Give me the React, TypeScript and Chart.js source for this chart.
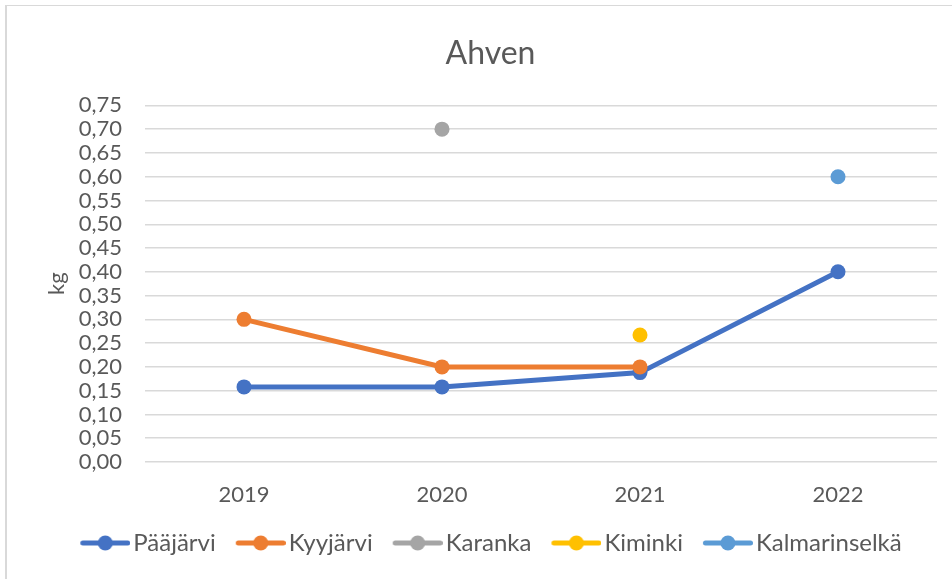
import React, { useEffect, useRef } from "react";
import { Chart, registerables } from "chart.js";

Chart.register(...registerables);

const years = ["2019", "2020", "2021", "2022"];
const paajarvi = [0.158, 0.158, 0.188, 0.4];
const kyyjarvi = [0.3, 0.2, 0.2, null];
const karanka = [null, 0.7, null, null];
const kiminki = [null, null, 0.267, null];
const kalmarinselka = [null, null, null, 0.6];
const seriesNames = ["Pääjärvi", "Kyyjärvi", "Karanka", "Kiminki", "Kalmarinselkä"];
const seriesColors = ["#4472C4", "#ED7D31", "#A5A5A5", "#FFC000", "#5B9BD5"];
const seriesData = [paajarvi, kyyjarvi, karanka, kiminki, kalmarinselka];
const yMin = 0;
const yMax = 0.75;
const yStep = 0.05;

const FONT = "Lato, 'Open Sans', sans-serif";
const TEXT = "#595959";

function legendMarker(color: string) {
  const c = document.createElement("canvas");
  c.width = 60;
  c.height = 16;
  const ctx = c.getContext("2d")!;
  ctx.strokeStyle = color;
  ctx.lineWidth = 5;
  ctx.lineCap = "round";
  ctx.beginPath();
  ctx.moveTo(12.5, 8);
  ctx.lineTo(57.5, 8);
  ctx.stroke();
  ctx.fillStyle = color;
  ctx.beginPath();
  ctx.arc(35, 8, 7.5, 0, Math.PI * 2);
  ctx.fill();
  return c;
}

export default function App() {
  const ref = useRef<HTMLCanvasElement>(null);
  useEffect(() => {
    document.body.style.margin = "0";
    document.body.style.overflow = "hidden";
    const markers = seriesColors.map(legendMarker);
    const chart = new Chart(ref.current!, {
      type: "line",
      data: {
        labels: years,
        datasets: seriesNames.map((name, i) => ({
          label: name,
          data: seriesData[i],
          borderColor: seriesColors[i],
          backgroundColor: seriesColors[i],
          borderWidth: 5,
          pointRadius: 7.5,
          pointHoverRadius: 7.5,
          pointBorderWidth: 0,
          spanGaps: false,
          order: seriesNames.length - i,
        })),
      },
      options: {
        responsive: false,
        animation: false,
        layout: { padding: { left: 44, right: 15, top: 4, bottom: 14 } },
        plugins: {
          tooltip: { enabled: false },
          title: {
            display: true,
            text: "Ahven",
            color: TEXT,
            font: { family: FONT, size: 32, weight: "normal" },
            padding: { top: 30, bottom: 33 },
          },
          legend: {
            position: "bottom",
            labels: {
              color: TEXT,
              font: { family: FONT, size: 24 },
              usePointStyle: true,
              pointStyleWidth: 42,
              boxHeight: 16,
              padding: 19,
              sort: (a: any, b: any) => a.datasetIndex - b.datasetIndex,
              generateLabels: (ch: any) => {
                const items = Chart.defaults.plugins.legend.labels.generateLabels(ch);
                return items.map((it: any, i: number) => ({ ...it, pointStyle: markers[it.datasetIndex ?? i] }));
              },
            },
          },
        },
        scales: {
          x: {
            offset: true,
            afterFit: (s: any) => {
              s.height = 50;
            },
            grid: { display: false, drawTicks: false, offset: true },
            border: { display: false },
            ticks: { color: TEXT, font: { family: FONT, size: 22 }, padding: 20 },
          },
          y: {
            min: yMin,
            max: yMax,
            afterFit: (s: any) => {
              s.width = 101;
            },
            grid: { color: "#D9D9D9", lineWidth: 1.5, drawTicks: false },
            border: { display: false },
            ticks: {
              stepSize: yStep,
              autoSkip: false,
              color: TEXT,
              font: { family: FONT, size: 22 },
              padding: 23,
              callback: (v: any) => Number(v).toFixed(2).replace(".", ","),
            },
            title: {
              display: true,
              text: "kg",
              color: TEXT,
              font: { family: FONT, size: 22 },
              padding: 0,
            },
          },
        },
      },
    });
    return () => chart.destroy();
  }, []);
  return (
    <div style={{ position: "fixed", left: 0, top: 0, width: 952, height: 579, overflow: "hidden", background: "#fff" }}>
      <div
        style={{
          position: "absolute",
          left: 5,
          top: 5,
          width: 1000,
          height: 1000,
          borderLeft: "2px solid #D9D9D9",
          borderTop: "1px solid #D9D9D9",
        }}
      />
      <canvas ref={ref} width={952} height={579} style={{ position: "absolute", left: 0, top: 0 }} />
    </div>
  );
}
